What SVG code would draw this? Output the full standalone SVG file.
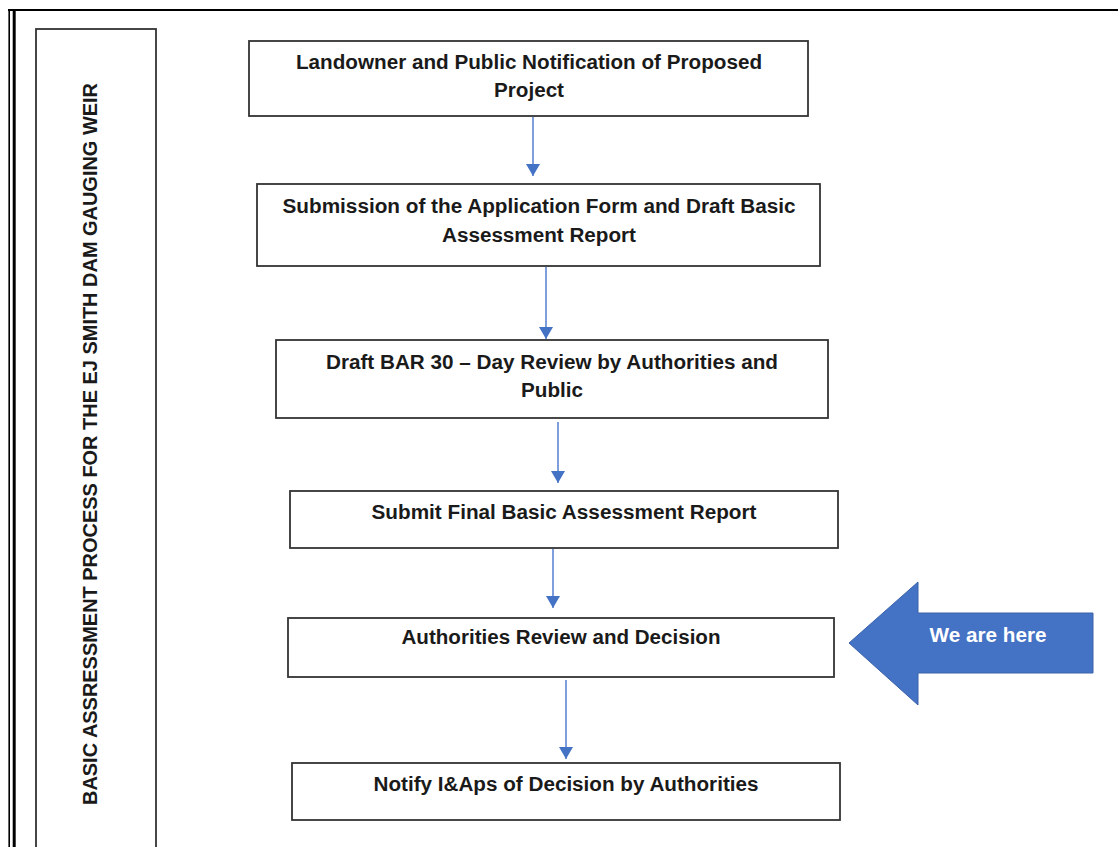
<svg xmlns="http://www.w3.org/2000/svg" width="1118" height="847" viewBox="0 0 1118 847">
<style>
.box{fill:#fff;stroke:#333;stroke-width:1.8}
.t{font-family:"Liberation Sans",Arial,sans-serif;font-weight:bold;font-size:20px;fill:#1a1a1a;text-anchor:middle}
.conn{stroke:#7f9fdc;stroke-width:2;fill:none}
</style>
<defs>
<marker id="ah" viewBox="0 0 12 14" refX="12" refY="7" markerWidth="12" markerHeight="14" markerUnits="userSpaceOnUse" orient="auto">
<path d="M0,0 L12,7 L0,14 Z" fill="#4472c4"/>
</marker>
</defs>
<rect width="1118" height="847" fill="#fff"/>
<g id="frame">
<line x1="8" y1="10" x2="1118" y2="10" stroke="#000" stroke-width="2"/>
<line x1="9.2" y1="9" x2="9.2" y2="847" stroke="#000" stroke-width="1.6"/>
<line x1="14.2" y1="9" x2="14.2" y2="847" stroke="#000" stroke-width="3"/>
</g>
<g id="title">
<rect x="36" y="29" width="120" height="830" class="box"/>
<text class="t" transform="translate(97,444) rotate(-90)" font-size="28" textLength="722" lengthAdjust="spacingAndGlyphs">BASIC ASSRESSMENT PROCESS FOR THE EJ SMITH DAM GAUGING WEIR</text>
</g>
<g id="n1">
<rect x="249" y="41" width="559" height="75" class="box"/>
<text class="t" x="529" y="69" textLength="466" lengthAdjust="spacingAndGlyphs">Landowner and Public Notification of Proposed</text>
<text class="t" x="529" y="97" textLength="70" lengthAdjust="spacingAndGlyphs">Project</text>
</g>
<g id="n2">
<rect x="257" y="184" width="563" height="82" class="box"/>
<text class="t" x="539" y="213" textLength="513" lengthAdjust="spacingAndGlyphs">Submission of the Application Form and Draft Basic</text>
<text class="t" x="539" y="242" textLength="194" lengthAdjust="spacingAndGlyphs">Assessment Report</text>
</g>
<g id="n3">
<rect x="276" y="340" width="552" height="78" class="box"/>
<text class="t" x="552" y="369" textLength="452" lengthAdjust="spacingAndGlyphs">Draft BAR 30 – Day Review by Authorities and</text>
<text class="t" x="552" y="397" textLength="62" lengthAdjust="spacingAndGlyphs">Public</text>
</g>
<g id="n4">
<rect x="290" y="491" width="548" height="57" class="box"/>
<text class="t" x="564" y="519" textLength="385" lengthAdjust="spacingAndGlyphs">Submit Final Basic Assessment Report</text>
</g>
<g id="n5">
<rect x="288" y="618" width="546" height="59" class="box"/>
<text class="t" x="561" y="644" textLength="319" lengthAdjust="spacingAndGlyphs">Authorities Review and Decision</text>
</g>
<g id="n6">
<rect x="292" y="763" width="548" height="57" class="box"/>
<text class="t" x="566" y="791" textLength="385" lengthAdjust="spacingAndGlyphs">Notify I&amp;Aps of Decision by Authorities</text>
</g>
<g id="connectors">
<line class="conn" x1="533" y1="117" x2="533" y2="176" marker-end="url(#ah)"/>
<line class="conn" x1="546" y1="267" x2="546" y2="339" marker-end="url(#ah)"/>
<line class="conn" x1="558" y1="422" x2="558" y2="483" marker-end="url(#ah)"/>
<line class="conn" x1="553" y1="549" x2="553" y2="608" marker-end="url(#ah)"/>
<line class="conn" x1="566" y1="680" x2="566" y2="759" marker-end="url(#ah)"/>
</g>
<g id="here">
<path d="M849,643 L918,582 L918,613 L1093,613 L1093,673 L918,673 L918,705 Z" fill="#4472c4" stroke="#3a62aa" stroke-width="1"/>
<text class="t" x="988" y="642" style="fill:#fff" textLength="117" lengthAdjust="spacingAndGlyphs">We are here</text>
</g>
</svg>
